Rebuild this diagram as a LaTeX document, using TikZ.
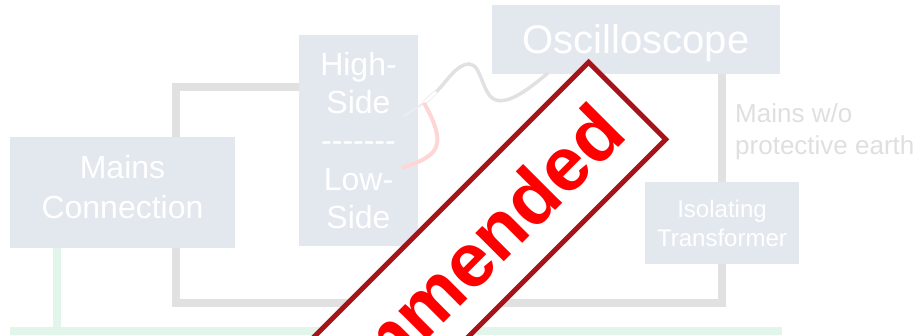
\documentclass[tikz,border=0pt]{standalone}
\usepackage{fontspec}
\setmainfont{Liberation Sans}
\usepackage{xcolor}
\usepackage{tikz}
\usetikzlibrary{positioning, calc}

\definecolor{boxfill}{HTML}{E3E8EF}
\definecolor{wiregray}{HTML}{E1E1E1}
\definecolor{earthgreen}{HTML}{E1F5EA}
\definecolor{notegray}{HTML}{DFDFDF}
\definecolor{leadpink}{HTML}{FFD6D6}
\definecolor{stampred}{HTML}{A61419}

\newcommand{\dashrow}{\mbox{-}\mbox{-}\mbox{-}\mbox{-}\mbox{-}\mbox{-}\mbox{-}}

\begin{document}
\begin{tikzpicture}[
    x=1pt, y=-1pt,
    box/.style={rectangle, fill=boxfill, text=white, align=center, inner sep=0pt},
    note/.style={text=notegray, align=left, inner sep=0pt, font=\fontsize{26}{32}\selectfont},
    wire/.style={draw=wiregray, line width=8pt},
    earth/.style={draw=earthgreen, line width=8pt},
    cable/.style={draw=wiregray, line width=3.5pt},
    tipwhite/.style={draw=black!8, line width=0.8pt, double=white, double distance=3pt},
    needlewire/.style={draw=black!7, line width=2pt},
    pinklead/.style={draw=leadpink, line width=4pt},
    stamp/.style={rectangle, draw=stampred, line width=5pt, fill=white, rotate=45,
        minimum height=109pt, inner xsep=24pt, inner ysep=0pt, outer sep=0pt,
        text=red, font=\fontsize{76}{76}\selectfont\bfseries}
]
\useasboundingbox (0,0) rectangle (921,336);
\clip (0,0) rectangle (921,336);

% Blocks
\node[box, minimum width=225pt, minimum height=111pt, font=\fontsize{32}{40}\selectfont] (mains) at (122.5,192.5) {Mains\\Connection\strut};
\node[box, minimum width=119pt, minimum height=211pt, font=\fontsize{32}{38.3}\selectfont] (probe) at (358.5,140.5) {High-\\Side\\\dashrow\\Low-\\Side};
\node[box, minimum width=288pt, minimum height=69pt, text depth=0pt, font=\fontsize{40}{48}\selectfont] (scope) at (636,39.5) {Oscilloscope};
\node[box, minimum width=154pt, minimum height=82pt, font=\fontsize{24}{29}\selectfont] (iso) at (722,223) {Isolating\\Transformer};

% Label
\node[note, anchor=north west] (pelabel) at (735,103) {Mains w/o\\protective earth};

% Bend points
\coordinate (top bend) at (176,87);
\coordinate (low left) at (176,303);
\coordinate (low right) at (722,303);
\coordinate (pe drop) at (57,331);
\coordinate (pe west) at (10,331);
\coordinate (pe east) at (782,331);

% Mains wiring
\draw[wire] (mains.north -| top bend) -- (top bend) -- (top bend -| probe.west);
\draw[wire] (mains.south -| low left) -- (low left) -- (low right) -- (iso.south);
\draw[wire] (iso.north) -- (scope.south -| iso.north);

% Protective earth
\draw[earth] (mains.south -| pe drop) -- (pe drop);
\draw[earth] (pe west) -- (pe east);

% Probe
\coordinate (scope tap) at (548,73);
\coordinate (tip back) at (436,92);
\coordinate (tip front) at (424,103);
\coordinate (needle) at (404,116);
\coordinate (clip end) at (402,168);

\draw[cable] (scope tap) .. controls (530,88) and (510,104) .. (496,100)
    .. controls (482,96) and (482,64) .. (469,64)
    .. controls (456,64) and (446,83) .. (tip back);
\draw[tipwhite] (tip back) -- (tip front);
\draw[needlewire] (tip front) -- (needle);
\draw[pinklead] (tip front) .. controls (436,124) and (442,142) .. (433,152)
    .. controls (426,160) and (413,164) .. (clip end);

% Stamp
\node[stamp, anchor=east] (notrec) at (627.2,100.8) {Not recommended};

\end{tikzpicture}
\end{document}
